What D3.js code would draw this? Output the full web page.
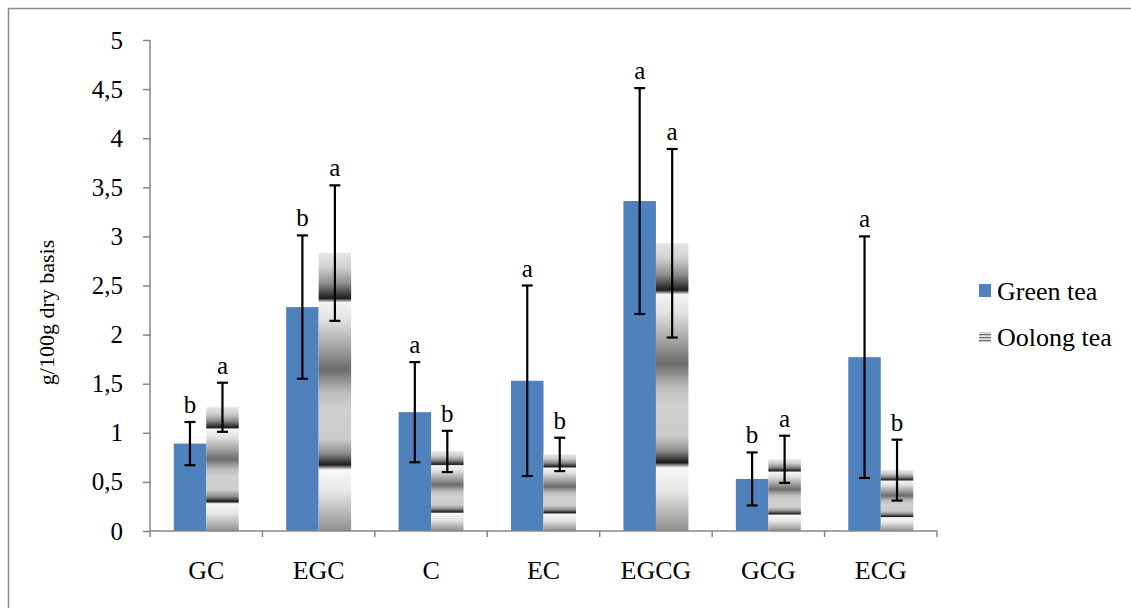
<!DOCTYPE html>
<html>
<head>
<meta charset="utf-8">
<script src="https://cdn.jsdelivr.net/npm/d3@7"></script>
<style>
    body { margin: 0; background: #fff; }
    text { font-family: "Liberation Serif", "Times New Roman", serif; fill: #000; }
</style>
</head>
<body>
<div id="chart"></div>
<script>
const categories = ["GC", "EGC", "C", "EC", "EGCG", "GCG", "ECG"];
const series = ["Green tea", "Oolong tea"];
const greenValues = [0.89, 2.28, 1.21, 1.53, 3.36, 0.53, 1.77];
const oolongValues = [1.26, 2.83, 0.81, 0.78, 2.93, 0.73, 0.62];
const greenErrors = [0.22, 0.73, 0.51, 0.97, 1.15, 0.27, 1.23];
const oolongErrors = [0.25, 0.69, 0.21, 0.17, 0.96, 0.24, 0.31];
const greenLetters = ["b", "b", "a", "a", "a", "b", "a"];
const oolongLetters = ["a", "a", "b", "b", "a", "a", "b"];
const yTicks = [0, 0.5, 1, 1.5, 2, 2.5, 3, 3.5, 4, 4.5, 5];

function drawChart() {
    const width = 1131;
    const height = 608;
    const plot = { left: 150, right: 937, top: 40, bottom: 531 };

    const svg = d3.select("#chart")
        .append("svg")
        .attr("width", width)
        .attr("height", height);

    // outer frame (right/bottom edges fall outside the picture)
    svg.append("rect")
        .attr("x", 8.5)
        .attr("y", 8.5)
        .attr("width", 1300)
        .attr("height", 800)
        .attr("fill", "none")
        .attr("stroke", "#8a8a8a")
        .attr("stroke-width", 1.5);

    // banded grey fill for the oolong bars
    const defs = svg.append("defs");
    const grad = defs.append("linearGradient")
        .attr("id", "oolongFill")
        .attr("x1", 0).attr("y1", 0)
        .attr("x2", 0).attr("y2", 1);
    const stops = [
        [0, "#e4e4e4"], [0.05, "#d2d2d2"], [0.11, "#8c8c8c"], [0.163, "#1c1c1c"],
        [0.178, "#f4f4f4"], [0.24, "#e2e2e2"], [0.33, "#a8a8a8"], [0.42, "#6c6c6c"],
        [0.5, "#bcbcbc"], [0.56, "#d0d0d0"], [0.67, "#cccccc"], [0.72, "#8e8e8e"],
        [0.762, "#1c1c1c"], [0.78, "#f8f8f8"], [0.86, "#e6e6e6"], [1, "#8e8e8e"]
    ];
    stops.forEach(s => grad.append("stop").attr("offset", s[0]).attr("stop-color", s[1]));

    const legendPat = defs.append("pattern")
        .attr("id", "oolongLegend")
        .attr("patternUnits", "userSpaceOnUse")
        .attr("width", 12).attr("height", 3);
    legendPat.append("rect").attr("width", 12).attr("height", 3).attr("fill", "#e0e0e0");
    legendPat.append("rect").attr("width", 12).attr("height", 1.2).attr("fill", "#6e6e6e");

    const x = d3.scaleBand()
        .domain(categories)
        .range([plot.left, plot.right])
        .padding(0);

    const xSub = d3.scaleBand()
        .domain(series)
        .range([0, x.bandwidth()])
        .paddingInner(0)
        .paddingOuter(0.73);

    const y = d3.scaleLinear()
        .domain([0, 5])
        .range([plot.bottom, plot.top]);

    const rows = categories.map((c, i) => [
        { cat: c, s: series[0], v: greenValues[i], e: greenErrors[i], l: greenLetters[i] },
        { cat: c, s: series[1], v: oolongValues[i], e: oolongErrors[i], l: oolongLetters[i] }
    ]).flat();

    // y axis
    const yAxis = svg.append("g")
        .attr("transform", `translate(${plot.left},0)`)
        .call(d3.axisLeft(y)
            .tickValues(yTicks)
            .tickSize(7)
            .tickPadding(20)
            .tickFormat(d => String(d).replace(".", ",")));
    yAxis.select(".domain").remove();
    yAxis.append("line")
        .attr("x1", 0).attr("x2", 0)
        .attr("y1", plot.top).attr("y2", plot.bottom + 6)
        .attr("stroke", "#868686").attr("stroke-width", 1.5);
    yAxis.selectAll(".tick line").attr("stroke", "#868686").attr("stroke-width", 1.5);
    yAxis.selectAll("text").style("font-size", "25px").attr("fill", "#000");

    // bars
    svg.append("g")
        .selectAll("rect")
        .data(rows)
        .enter().append("rect")
        .attr("x", d => x(d.cat) + xSub(d.s))
        .attr("y", d => y(d.v))
        .attr("width", xSub.bandwidth())
        .attr("height", d => y(0) - y(d.v))
        .attr("fill", d => d.s === series[0] ? "#4f81bd" : "url(#oolongFill)");

    // x axis
    const xAxis = svg.append("g")
        .attr("transform", `translate(0,${plot.bottom})`)
        .call(d3.axisBottom(x).tickSize(0).tickPadding(30));
    xAxis.select(".domain").remove();
    xAxis.selectAll("text").style("font-size", "26px").attr("fill", "#000");
    xAxis.append("line")
        .attr("x1", plot.left).attr("x2", plot.right)
        .attr("y1", 0).attr("y2", 0)
        .attr("stroke", "#868686").attr("stroke-width", 1.5);
    xAxis.selectAll(".boundary")
        .data(categories.slice(1).concat("end"))
        .enter().append("line")
        .attr("class", "boundary")
        .attr("x1", d => d === "end" ? plot.right : x(d))
        .attr("x2", d => d === "end" ? plot.right : x(d))
        .attr("y1", 0).attr("y2", 6)
        .attr("stroke", "#868686").attr("stroke-width", 1.5);

    // error bars
    const err = svg.append("g")
        .selectAll("g")
        .data(rows)
        .enter().append("g")
        .attr("transform", d => `translate(${x(d.cat) + xSub(d.s) + xSub.bandwidth() / 2},0)`)
        .attr("stroke", "#000")
        .attr("stroke-width", 2.2);
    err.append("line")
        .attr("y1", d => y(d.v + d.e))
        .attr("y2", d => y(d.v - d.e));
    err.append("line")
        .attr("x1", -5.5).attr("x2", 5.5)
        .attr("y1", d => y(d.v + d.e)).attr("y2", d => y(d.v + d.e));
    err.append("line")
        .attr("x1", -5.5).attr("x2", 5.5)
        .attr("y1", d => y(d.v - d.e)).attr("y2", d => y(d.v - d.e));

    // significance letters
    svg.append("g")
        .selectAll("text")
        .data(rows)
        .enter().append("text")
        .attr("x", d => x(d.cat) + xSub(d.s) + xSub.bandwidth() / 2)
        .attr("y", d => y(d.v + d.e) - 9)
        .attr("text-anchor", "middle")
        .style("font-size", "25px")
        .text(d => d.l);

    // y axis title
    svg.append("text")
        .attr("transform", `translate(46,${(plot.top + plot.bottom) / 2 + 27}) rotate(-90)`)
        .attr("text-anchor", "middle")
        .attr("dy", "0.35em")
        .style("font-size", "22px")
        .text("g/100g dry basis");

    // legend
    const legend = svg.append("g")
        .attr("transform", "translate(979,291)");
    const items = legend.selectAll("g")
        .data(series)
        .enter().append("g")
        .attr("transform", (d, i) => `translate(0,${i * 46})`);
    items.append("rect")
        .attr("y", (d, i) => i === 0 ? -7 : -5)
        .attr("width", 12)
        .attr("height", (d, i) => i === 0 ? 13 : 10)
        .attr("fill", (d, i) => i === 0 ? "#4f81bd" : "url(#oolongLegend)");
    items.append("text")
        .attr("x", 18)
        .attr("dy", "0.33em")
        .style("font-size", "26px")
        .text(d => d);
}

drawChart();
</script>
</body>
</html>
